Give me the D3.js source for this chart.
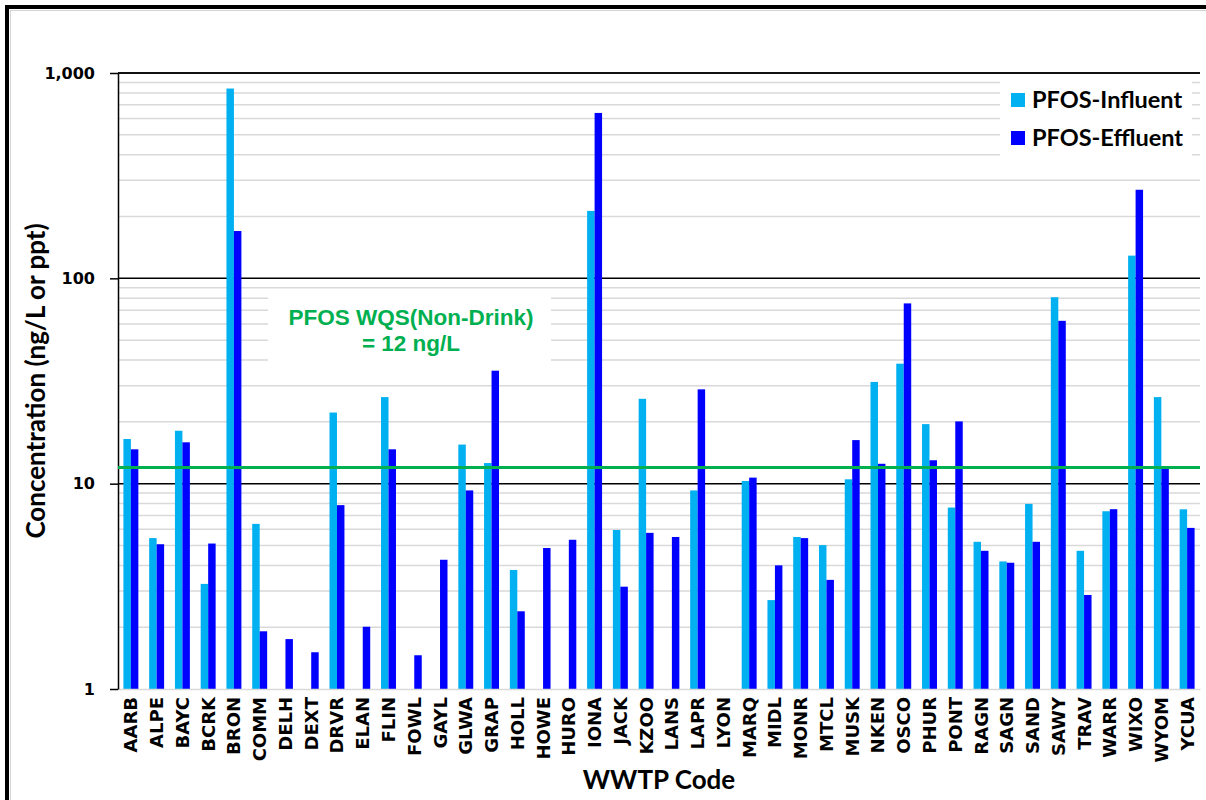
<!DOCTYPE html>
<html>
<head>
<meta charset="utf-8">
<script src="https://cdn.jsdelivr.net/npm/d3@7"></script>
<style>
  html, body { margin: 0; padding: 0; background: #fff; }
  svg { display: block; }
</style>
</head>
<body>
<svg id="chart" width="1206" height="800"></svg>
<script>
// WWTP site codes
const codes = ["AARB","ALPE","BAYC","BCRK","BRON","COMM","DELH","DEXT","DRVR","ELAN",
  "FLIN","FOWL","GAYL","GLWA","GRAP","HOLL","HOWE","HURO","IONA","JACK",
  "KZOO","LANS","LAPR","LYON","MARQ","MIDL","MONR","MTCL","MUSK","NKEN",
  "OSCO","PHUR","PONT","RAGN","SAGN","SAND","SAWY","TRAV","WARR","WIXO",
  "WYOM","YCUA"];

// PFOS concentrations, ng/L (null = no result)
const influent = [16.5,5.43,18.1,3.25,840,6.37,null,null,22.2,null,
  26.4,null,null,15.5,12.6,3.8,null,null,213,5.95,
  25.9,null,9.27,null,10.3,2.71,5.5,5.02,10.5,31.3,
  38.4,19.5,7.65,5.21,4.18,7.97,80.9,4.71,7.34,129,
  26.4,7.5];
const effluent = [14.7,5.07,15.9,5.11,170,1.91,1.75,1.51,7.86,2.01,
  14.7,1.46,4.26,9.27,35.5,2.39,4.86,5.33,639,3.15,
  5.76,5.5,28.8,null,10.7,4.0,5.43,3.40,16.3,12.5,
  75.5,13.0,20.1,4.71,4.12,5.21,62.1,2.87,7.51,270,
  11.8,6.09];

const seriesNames = ["PFOS-Influent","PFOS-Effluent"];
const seriesColors = ["#00b0f0","#0000ff"];
const yTicks = [1,10,100,1000];
const wqsValue = 12;
const wqsLines = ["PFOS WQS(Non-Drink)","= 12 ng/L"];

const svg = d3.select("#chart");
const plot = {left:118, right:1200, top:73, bottom:689};

// outer frame
svg.append("rect").attr("x",7).attr("y",7).attr("width",1220).attr("height",820)
  .attr("fill","none").attr("stroke","#000").attr("stroke-width",4);
svg.append("rect").attr("x",10.5).attr("y",10.5).attr("width",1220).attr("height",820)
  .attr("fill","none").attr("stroke","#d4d4d4").attr("stroke-width",1);

const y = d3.scaleLog().domain([1,1000]).range([plot.bottom, plot.top]);
const x = d3.scaleBand().domain(codes).range([plot.left, plot.right])
  .paddingInner(0.42).paddingOuter(0.21);
const x1 = d3.scaleBand().domain(seriesNames).range([0, x.bandwidth()]);

// minor gridlines 2..9 in each decade
const minor = [];
yTicks.slice(0,-1).forEach(d => { for (let k=2;k<=9;k++) minor.push(d*k); });
svg.append("g").selectAll("line").data(minor).join("line")
  .attr("x1",plot.left).attr("x2",plot.right)
  .attr("y1",d=>y(d)).attr("y2",d=>y(d))
  .attr("stroke","#d9d9d9").attr("stroke-width",1.5);

// major gridlines
svg.append("g").selectAll("line").data(yTicks.slice(1)).join("line")
  .attr("x1",plot.left).attr("x2",plot.right)
  .attr("y1",d=>y(d)).attr("y2",d=>y(d))
  .attr("stroke","#000").attr("stroke-width",1.5);

// bars
const series = [influent, effluent];
series.forEach((vals, si) => {
  svg.append("g").selectAll("rect")
    .data(codes.map((c,i)=>({code:c, v:vals[i]})).filter(d=>d.v!=null))
    .join("rect")
    .attr("x", d => x(d.code) + x1(seriesNames[si]))
    .attr("width", x1.bandwidth())
    .attr("y", d => y(d.v))
    .attr("height", d => y(1) - y(d.v))
    .attr("fill", seriesColors[si]);
});

// x axis
const xAxis = svg.append("g").attr("transform",`translate(0,${plot.bottom})`)
  .call(d3.axisBottom(x).tickSize(0).tickSizeOuter(0));
xAxis.select(".domain").attr("stroke","#d9d9d9").attr("stroke-width",1.5);
xAxis.selectAll("text")
  .attr("transform","rotate(-90)")
  .attr("x",-8).attr("y",0).attr("dy","0.36em")
  .attr("text-anchor","end")
  .attr("font-family","'DejaVu Sans', Verdana, sans-serif")
  .attr("font-weight","bold").attr("font-size",18).attr("fill","#000");

// y axis
const yAxis = svg.append("g").attr("transform",`translate(${plot.left},0)`)
  .call(d3.axisLeft(y).tickValues(yTicks).tickFormat(d3.format(",")).tickSize(8).tickSizeOuter(0));
yAxis.select(".domain").attr("stroke","#000").attr("stroke-width",1.5);
yAxis.selectAll(".tick line").attr("stroke","#000").attr("stroke-width",1.5);
yAxis.selectAll("text")
  .attr("x",-23)
  .attr("font-family","'DejaVu Sans', Verdana, sans-serif")
  .attr("font-weight","bold").attr("font-size",16).attr("fill","#000");
// top line at 1000
svg.append("line").attr("x1",plot.left).attr("x2",plot.right)
  .attr("y1",y(1000)).attr("y2",y(1000)).attr("stroke","#000").attr("stroke-width",1.5);

// annotation box
svg.append("rect").attr("x",268).attr("y",292).attr("width",283).attr("height",75).attr("fill","#fff");
svg.append("g").selectAll("text").data(wqsLines).join("text")
  .attr("x",411).attr("y",(d,i)=>325 + i*26)
  .attr("text-anchor","middle")
  .attr("font-family","'Liberation Sans', Arial, sans-serif")
  .attr("font-weight","bold").attr("font-size",22.5).attr("fill","#00b050")
  .text(d=>d);

// WQS line
svg.append("line").attr("x1",plot.left).attr("x2",plot.right)
  .attr("y1",y(wqsValue)).attr("y2",y(wqsValue))
  .attr("stroke","#00b050").attr("stroke-width",3);

// legend
svg.append("rect").attr("x",1000).attr("y",76).attr("width",192).attr("height",84).attr("fill","#fff");
const lg = svg.append("g").selectAll("g").data(seriesNames).join("g")
  .attr("transform",(d,i)=>`translate(1011,${100 + i*38})`);
lg.append("rect").attr("x",0).attr("y",-7).attr("width",14).attr("height",14)
  .attr("fill",(d,i)=>seriesColors[i]);
lg.append("text").attr("x",21).attr("y",0).attr("dy","0.36em")
  .attr("font-family","Lato, 'Open Sans', sans-serif")
  .attr("font-weight","bold").attr("font-size",23.5).attr("fill","#000")
  .text(d=>d);

// axis titles
svg.append("text")
  .attr("transform",`translate(36,${(plot.top+plot.bottom)/2}) rotate(-90)`)
  .attr("text-anchor","middle").attr("dy","0.36em")
  .attr("font-family","Lato, 'Open Sans', sans-serif")
  .attr("font-weight","bold").attr("font-size",26).attr("fill","#000")
  .text("Concentration (ng/L or ppt)");
svg.append("text")
  .attr("x",(plot.left+plot.right)/2).attr("y",789)
  .attr("text-anchor","middle")
  .attr("font-family","Lato, 'Open Sans', sans-serif")
  .attr("font-weight","bold").attr("font-size",26).attr("fill","#000")
  .text("WWTP Code");
</script>
</body>
</html>
